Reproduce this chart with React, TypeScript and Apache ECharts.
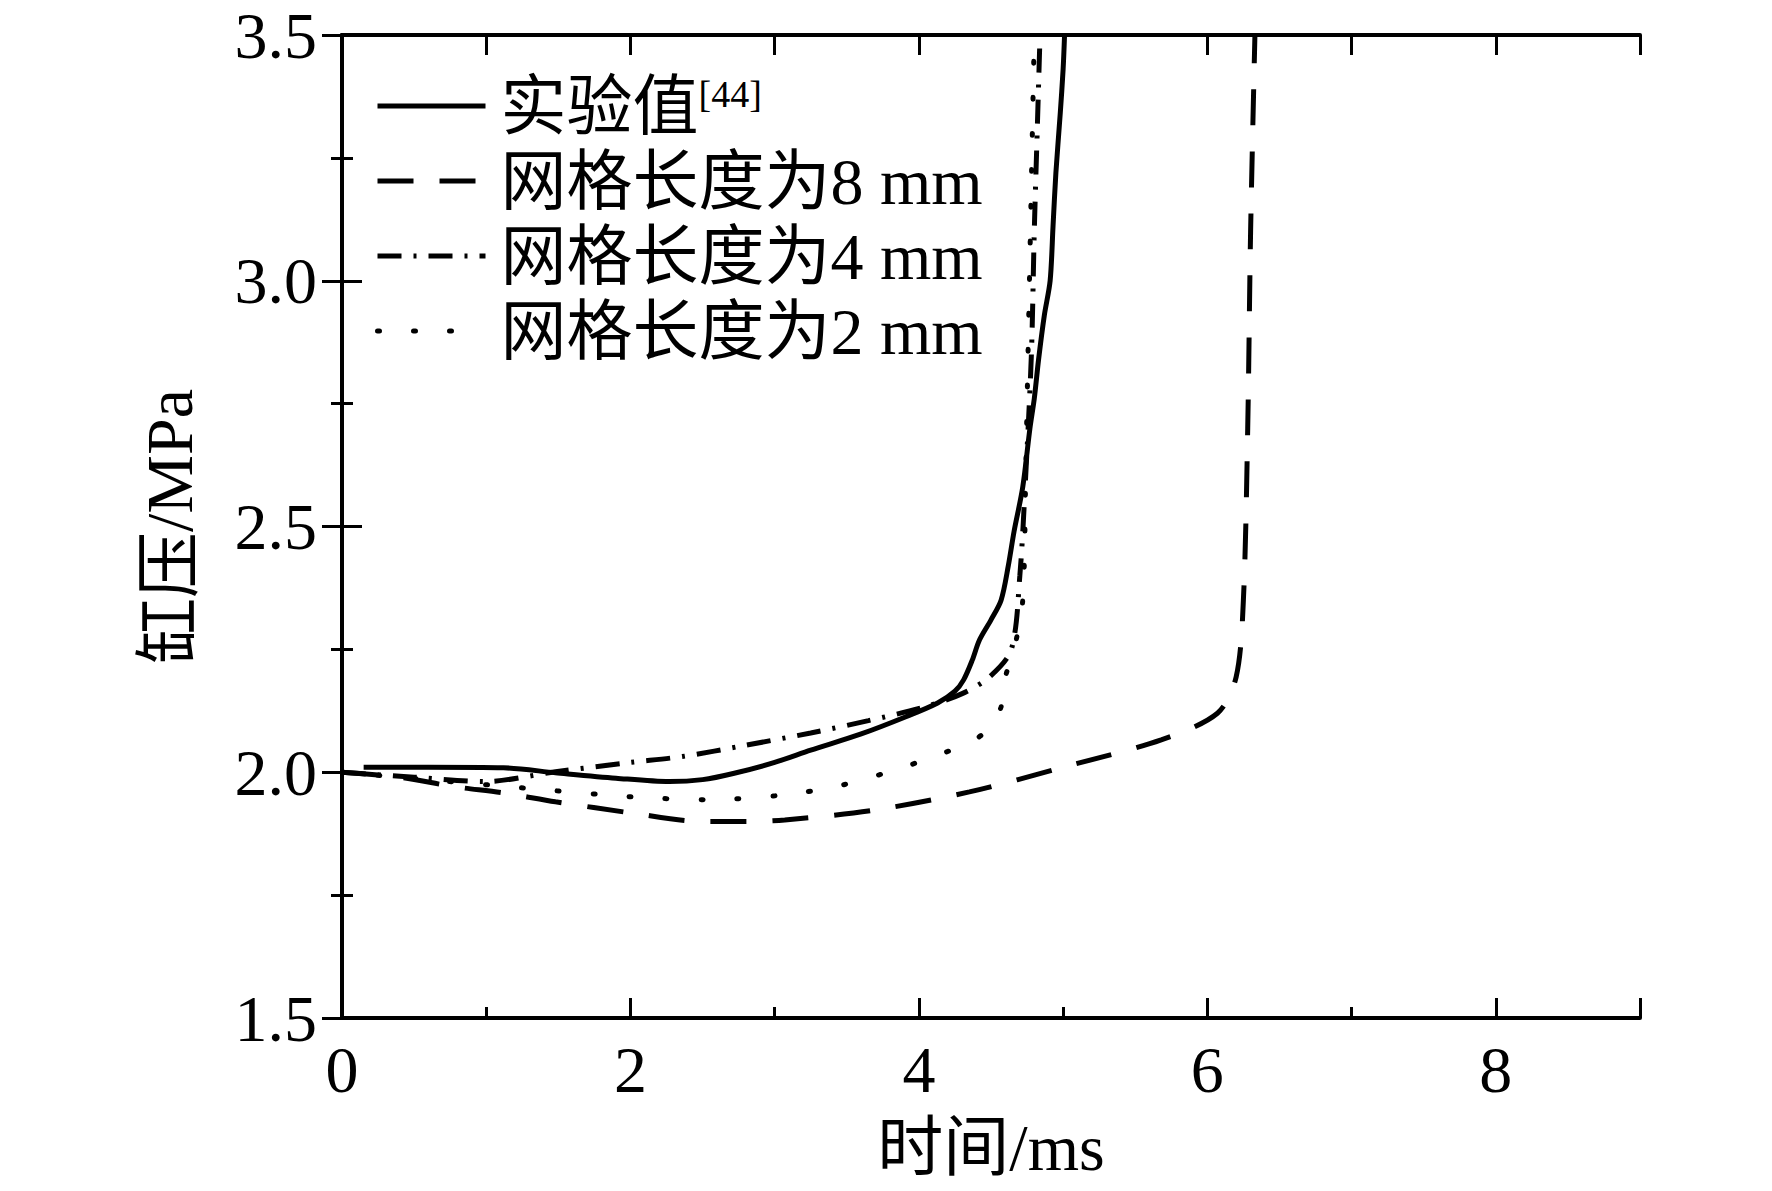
import { useEffect, useRef } from 'react';
import * as echarts from 'echarts';

// [time ms, pressure MPa]
const expData = [
  [0.15, 2.01], [0.6, 2.01], [1.12, 2.009], [1.48, 1.999], [1.9, 1.988], [2.27, 1.981],
  [2.5, 1.985], [2.72, 1.998], [3.0, 2.02], [3.25, 2.045], [3.6, 2.078], [3.91, 2.113],
  [4.13, 2.141], [4.25, 2.165], [4.31, 2.188], [4.37, 2.228], [4.42, 2.269], [4.5, 2.31],
  [4.57, 2.35], [4.62, 2.42], [4.66, 2.49], [4.72, 2.58], [4.77, 2.7], [4.8, 2.76],
  [4.83, 2.84], [4.87, 2.93], [4.91, 3.0], [4.93, 3.11], [4.95, 3.22], [4.98, 3.34],
  [5.0, 3.43], [5.01, 3.5],
];
const mesh8Data = [
  [0, 2.0], [0.4, 1.99], [0.77, 1.971], [1.12, 1.958], [1.48, 1.94], [2.01, 1.917],
  [2.49, 1.9], [2.8, 1.9], [3.07, 1.903], [3.69, 1.923], [4.35, 1.96], [5.01, 2.011],
  [5.68, 2.066], [6.07, 2.12], [6.2, 2.194], [6.25, 2.35], [6.28, 2.7], [6.3, 3.1], [6.33, 3.5],
];
const mesh4Data = [
  [0, 2.0], [0.5, 1.99], [0.99, 1.981], [1.48, 2.001], [2.0, 2.02], [2.36, 2.032],
  [2.8, 2.055], [3.25, 2.08], [3.65, 2.105], [4.04, 2.133], [4.3, 2.16], [4.49, 2.194],
  [4.64, 2.249], [4.7, 2.4], [4.74, 2.6], [4.78, 2.85], [4.8, 3.1], [4.82, 3.3], [4.84, 3.5],
];
const mesh2Data = [
  [0, 2.0], [0.6, 1.985], [1.26, 1.968], [2.01, 1.95], [2.54, 1.944], [3.07, 1.954],
  [3.47, 1.974], [3.87, 2.008], [4.13, 2.035], [4.35, 2.06], [4.49, 2.09], [4.57, 2.133],
  [4.6, 2.194], [4.66, 2.25], [4.72, 2.35], [4.74, 2.6], [4.76, 2.9], [4.78, 3.2], [4.8, 3.5],
];

const seriesNames = ['实验值', '网格长度为8 mm', '网格长度为4 mm', '网格长度为2 mm'];
const seriesData = [expData, mesh8Data, mesh4Data, mesh2Data];
const dashes: (string | number[])[] = ['solid', [36, 26], [24, 12, 3, 12], [2, 34]];

const FONT = '"Liberation Serif", "Times New Roman", "Noto Sans CJK SC", serif';

export default function App() {
  const chartRef = useRef<HTMLDivElement>(null);

  useEffect(() => {
    if (!chartRef.current) return;
    const chart = echarts.init(chartRef.current, undefined, { renderer: 'svg' });

    const axisLine = { show: true, lineStyle: { color: '#000', width: 4 } };
    const majorTick = { show: true, inside: true, length: 20, lineStyle: { color: '#000', width: 3 } };
    const minorTick = { show: true, splitNumber: 2, length: 11, lineStyle: { color: '#000', width: 3 } };

    chart.setOption({
      animation: false,
      backgroundColor: '#fff',
      grid: { left: 342, right: 132, top: 35, bottom: 173 },
      legend: {
        orient: 'vertical',
        left: 370,
        top: 68,
        itemWidth: 108,
        itemHeight: 20,
        itemGap: 9,
        data: seriesNames,
        itemStyle: { opacity: 0 },
        lineStyle: { width: 5 },
        formatter: (name: string) => (name === '实验值' ? name + '{sup|[44]}' : name),
        textStyle: {
          fontFamily: FONT,
          fontSize: 66,
          lineHeight: 66,
          color: '#000',
          padding: [0, 0, 0, 10],
          rich: {
            sup: { fontFamily: FONT, fontSize: 38, color: '#000', padding: [0, 0, 24, 0] },
          },
        },
      },
      xAxis: [
        {
          type: 'value',
          min: 0,
          max: 9,
          interval: 2,
          name: '时间/ms',
          nameLocation: 'middle',
          nameGap: 96,
          nameTextStyle: { fontFamily: FONT, fontSize: 66, color: '#000' },
          axisLine,
          axisTick: majorTick,
          minorTick,
          splitLine: { show: false },
          axisLabel: {
            fontFamily: FONT,
            fontSize: 66,
            color: '#000',
            margin: 18,
            showMaxLabel: false,
          },
        },
        {
          type: 'value',
          position: 'top',
          min: 0,
          max: 9,
          interval: 1,
          axisLine,
          axisTick: majorTick,
          splitLine: { show: false },
          axisLabel: { show: false },
        },
      ],
      yAxis: [
        {
          type: 'value',
          min: 1.5,
          max: 3.5,
          interval: 0.5,
          name: '缸压/MPa',
          nameLocation: 'middle',
          nameGap: 140,
          nameTextStyle: { fontFamily: FONT, fontSize: 66, color: '#000' },
          axisLine,
          axisTick: majorTick,
          minorTick,
          splitLine: { show: false },
          axisLabel: {
            fontFamily: FONT,
            fontSize: 66,
            color: '#000',
            margin: 25,
            formatter: (v: number) => v.toFixed(1),
          },
        },
        {
          type: 'value',
          position: 'right',
          min: 1.5,
          max: 3.5,
          interval: 0.5,
          axisLine,
          axisTick: majorTick,
          minorTick,
          splitLine: { show: false },
          axisLabel: { show: false },
        },
      ],
      series: seriesNames.map((name, i) => ({
        name,
        type: 'line',
        data: seriesData[i],
        xAxisIndex: 0,
        yAxisIndex: 0,
        symbol: 'none',
        smooth: 0.3,
        lineStyle: { color: '#000', width: 5, type: dashes[i], cap: i === 3 ? 'round' : 'butt' },
        itemStyle: { color: '#000' },
      })),
    });

    return () => chart.dispose();
  }, []);

  return (
    <div
      ref={chartRef}
      style={{ position: 'fixed', left: 0, top: 0, width: 1772, height: 1191, background: '#fff' }}
    />
  );
}
